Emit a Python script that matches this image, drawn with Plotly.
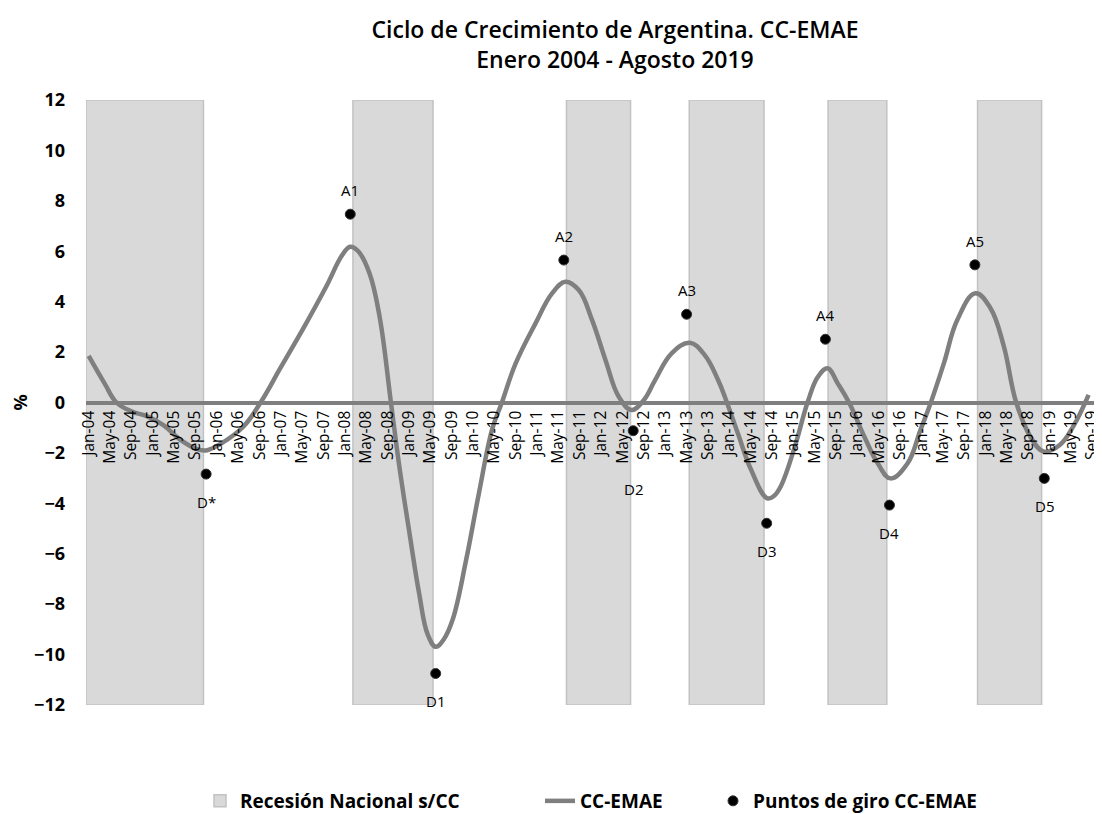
import plotly.graph_objects as go
import pandas as pd

# ---------------- data ----------------
# month index: 0 = Jan-04
cc_month = [0, 3, 5.2, 8, 11, 14, 17, 20, 22, 25, 29, 32.2, 36, 40.5, 44.5,
            47.5, 49, 50.5, 52.6, 54.5, 56.6, 58.2, 60.1, 61.9, 63.5, 65.0, 66.5, 68.2, 70.7,
            73.1, 75.6, 77.4, 80, 83.7, 86.8, 89.3, 91.8, 94.3, 96.8, 99.3, 101.7, 104.0,
            106.1, 109.2, 112.6, 115.4, 117.9, 119.5, 121.6, 124.1, 127.1, 128.4, 129.7, 132.2,
            134.7, 136.6, 138.4, 140.3, 142.5, 145.3, 147.8, 150.2, 153.4, 155.8, 157.7,
            160.2, 162.7, 166.1, 168.9, 171.4, 173.7, 176.4, 178.9, 181.9, 184.4, 187.3]
cc_value = [1.85, 0.75, 0.0, -0.35, -0.55, -0.9, -1.45, -1.82, -1.9, -1.6, -0.95, 0.0, 1.4, 3.05, 4.6,
            5.85, 6.18, 6.0, 5.13, 3.40, 0.03, -2.55, -5.19, -7.57, -9.2, -9.69, -9.4, -8.6, -6.25,
            -3.6, -1.05, 0.0, 1.56, 3.14, 4.33, 4.79, 4.46, 3.27, 1.69, 0.23, -0.30, 0.1,
            0.89, 1.95, 2.37, 1.88, 0.89, 0.03, -1.22, -2.68, -3.80, -3.70, -3.30, -1.80,
            0.03, 1.02, 1.36, 0.76, -0.03, -1.36, -2.41, -3.01, -2.41, -1.09, -0.03,
            1.56, 3.27, 4.33, 3.75, 2.25, 0.03, -1.36, -1.95, -1.69, -0.96, 0.30]

tp_month = [22, 49, 65, 89, 102, 112, 127, 138, 150, 166, 179]
tp_value = [-2.84, 7.47, -10.75, 5.65, -1.12, 3.50, -4.79, 2.51, -4.07, 5.46, -3.01]
tp_label = ["D*", "A1", "D1", "A2", "D2", "A3", "D3", "A4", "D4", "A5", "D5"]

# recession bands: first and last month index
rec_start = [0, 50, 90, 113, 139, 167]
rec_end = [21, 64, 101, 126, 149, 178]

months = pd.date_range("2004-01-01", "2019-09-01", freq="MS")
tick_idx = list(range(0, len(months), 4))
tick_text = [months[i].strftime("%b-%y") for i in tick_idx]

Y_MIN, Y_MAX = -12, 12

# ---------------- figure ----------------
FONT = "Open Sans"
GRAY = "#7f7f7f"
W, H = 1094, 806          # page body has an 8px margin
OFF = 8


def cx(px):   # screen x -> container fraction
    return (px - OFF) / W


def cy(py):   # screen y -> container fraction
    return 1 - (py - OFF) / H


fig = go.Figure()

fig.add_trace(go.Bar(
    x=[(s + e) / 2 for s, e in zip(rec_start, rec_end)],
    width=[e - s + 1 for s, e in zip(rec_start, rec_end)],
    y=[Y_MAX - Y_MIN] * len(rec_start),
    base=[Y_MIN] * len(rec_start),
    marker=dict(color="#d9d9d9", line=dict(color="#c2c2c2", width=1.5)),
    name="Recesión Nacional s/CC",
    legend="legend",
    hoverinfo="skip",
))

fig.add_trace(go.Scatter(
    x=cc_month, y=cc_value, mode="lines",
    line=dict(color=GRAY, width=4.5, shape="spline", smoothing=1.15),
    name="CC-EMAE", legend="legend2",
))

fig.add_trace(go.Scatter(
    x=tp_month, y=tp_value, mode="markers",
    marker=dict(color="black", size=10, line=dict(color="#333333", width=1)),
    name="Puntos de giro CC-EMAE", legend="legend3",
))

for m, v, lab in zip(tp_month, tp_value, tp_label):
    if lab.startswith("A"):
        shift = 24
    elif lab == "D2":
        shift = -58
    else:
        shift = -28
    fig.add_annotation(x=m, y=v, text=lab, showarrow=False, yshift=shift,
                       font=dict(family=FONT, size=15, color="black"))

legend_common = dict(orientation="h", yanchor="middle", xanchor="left",
                     font=dict(family=FONT, size=19, color="black", weight="bold"),
                     bgcolor="rgba(0,0,0,0)", itemwidth=30,
                     xref="container", yref="container")

fig.update_layout(
    width=W, height=H,
    margin=dict(l=86 - OFF, r=W - (1095 - OFF), t=100 - OFF, b=H - (705 - OFF), autoexpand=False),
    paper_bgcolor="white", plot_bgcolor="white",
    barmode="overlay",
    title=dict(text="Ciclo de Crecimiento de Argentina. CC-EMAE<br>Enero 2004 - Agosto 2019",
               x=cx(615), xanchor="center", xref="container",
               y=cy(38), yanchor="top", yref="container",
               font=dict(family=FONT, size=23, color="black", weight=600)),
    legend=dict(x=cx(200), y=cy(801), **legend_common),
    legend2=dict(x=cx(540), y=cy(801), **legend_common),
    legend3=dict(x=cx(713), y=cy(801), **legend_common),
    xaxis=dict(range=[-0.5, 188.5], tickmode="array", tickvals=tick_idx, ticktext=tick_text,
               tickangle=-90, anchor="free", position=0.5, automargin=False,
               showline=True, linecolor=GRAY, linewidth=4, ticks="",
               showgrid=False, zeroline=False, ticklabeloverflow="allow",
               tickfont=dict(family=FONT, size=15.5, color="black")),
    yaxis=dict(range=[Y_MIN, Y_MAX], dtick=2, showgrid=False, zeroline=False, showline=False,
               ticks="", ticklabelstandoff=20, automargin=False,
               tickfont=dict(family=FONT, size=18, color="black", weight="bold"),
               title=dict(text="%", standoff=20,
                          font=dict(family=FONT, size=18, color="black", weight="bold"))),
    showlegend=True,
)

fig.write_html("out.html")
